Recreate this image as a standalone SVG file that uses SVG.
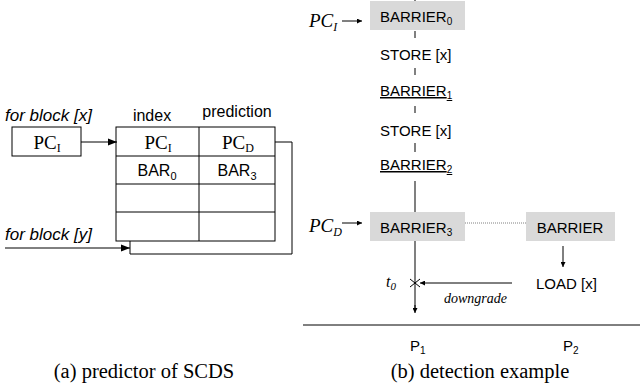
<svg xmlns="http://www.w3.org/2000/svg" width="640" height="392" viewBox="0 0 640 392">
<style>
.sans{font-family:"Liberation Sans",Arial,sans-serif;fill:#000}
.serif{font-family:"Liberation Serif","Times New Roman",serif;fill:#000}
.it{font-style:italic}
.ln{stroke:#000;fill:none;stroke-width:1}
.gray{stroke:#808080;stroke-width:2;fill:none}
.box{fill:#d9d9d9}
</style>
<defs>
<marker id="ah" viewBox="0 0 10 10" refX="10" refY="5" markerWidth="5" markerHeight="5" orient="auto" markerUnits="userSpaceOnUse">
<path d="M0,0 L10,5 L0,10 z" fill="#000"/>
</marker>
<marker id="ahb" viewBox="0 0 10 10" refX="10" refY="5" markerWidth="9" markerHeight="9" orient="auto" markerUnits="userSpaceOnUse">
<path d="M0,1 L10,5 L0,9 z" fill="#000"/>
</marker>
</defs>

<!-- left panel -->
<g id="label-x"><text class="sans it" x="5" y="121" font-size="17">for block [x]</text></g>
<g id="pci-box">
<rect x="12" y="127" width="69" height="29" fill="#fff" stroke="#000"/>
<text class="serif" x="47" y="149" font-size="19" text-anchor="middle">PC<tspan font-size="12" dy="3">I</tspan></text>
</g>
<g id="table">
<rect x="116" y="127" width="159" height="114" fill="#fff" stroke="#000"/>
<line class="ln" x1="199" y1="127" x2="199" y2="241"/>
<line class="ln" x1="116" y1="156" x2="275" y2="156" stroke-width="1.5"/>
<line class="ln" x1="116" y1="184" x2="275" y2="184" stroke-width="2"/>
<line class="ln" x1="116" y1="212" x2="275" y2="212"/>
<text class="sans" x="152" y="121" font-size="16" text-anchor="middle">index</text>
<text class="sans" x="237" y="117" font-size="16" text-anchor="middle">prediction</text>
<text class="serif" x="158" y="149" font-size="19" text-anchor="middle">PC<tspan font-size="12" dy="3">I</tspan></text>
<text class="serif" x="238" y="149" font-size="19" text-anchor="middle">PC<tspan font-size="12" dy="3">D</tspan></text>
<text class="sans" x="157" y="176" font-size="16" text-anchor="middle">BAR<tspan font-size="11" dy="4">0</tspan></text>
<text class="sans" x="237" y="176" font-size="16" text-anchor="middle">BAR<tspan font-size="11" dy="4">3</tspan></text>
</g>
<g id="label-y"><text class="sans it" x="5" y="240" font-size="17">for block [y]</text></g>
<g id="caption-a"><text class="serif" x="144" y="378" font-size="20.5" text-anchor="middle">(a) predictor of SCDS</text></g>

<!-- right panel nodes -->
<g id="barrier0">
<rect class="box" x="370" y="1" width="95" height="29"/>
<text class="sans" x="380" y="22" font-size="15">BARRIER<tspan font-size="10" dy="3">0</tspan></text>
</g>
<g id="pci-label"><text class="serif it" x="309" y="27" font-size="19">PC<tspan font-size="12" dy="4">I</tspan></text></g>
<g id="store1"><text class="sans" x="380" y="60" font-size="15">STORE [x]</text></g>
<g id="barrier1"><text class="sans" x="380" y="96" font-size="15" text-decoration="underline">BARRIER<tspan font-size="10" dy="3">1</tspan></text></g>
<g id="store2"><text class="sans" x="380" y="136" font-size="15">STORE [x]</text></g>
<g id="barrier2"><text class="sans" x="380" y="170" font-size="15" text-decoration="underline">BARRIER<tspan font-size="10" dy="3">2</tspan></text></g>
<g id="barrier3">
<rect class="box" x="370" y="212" width="95" height="29"/>
<text class="sans" x="380" y="233" font-size="15">BARRIER<tspan font-size="10" dy="3">3</tspan></text>
</g>
<g id="pcd-label"><text class="serif it" x="309" y="232" font-size="19">PC<tspan font-size="12" dy="4">D</tspan></text></g>
<g id="barrier-p2">
<rect class="box" x="526" y="212" width="89" height="29"/>
<text class="sans" x="570" y="233" font-size="15" text-anchor="middle">BARRIER</text>
</g>
<g id="load"><text class="sans" x="536" y="289" font-size="15">LOAD [x]</text></g>
<g id="t0"><text class="serif it" x="386" y="287" font-size="16">t<tspan font-size="11" dy="3">0</tspan></text></g>
<g id="downgrade-label"><text class="serif it" x="444" y="303" font-size="14">downgrade</text></g>
<g id="p1"><text class="sans" x="410" y="351" font-size="15">P<tspan font-size="10" dy="3">1</tspan></text></g>
<g id="p2"><text class="sans" x="563" y="351" font-size="15">P<tspan font-size="10" dy="3">2</tspan></text></g>
<g id="caption-b"><text class="serif" x="480" y="378" font-size="20.5" text-anchor="middle">(b) detection example</text></g>

<!-- connectors -->
<g id="connectors">
<line class="ln" x1="81" y1="142" x2="117" y2="142" stroke-width="2" marker-end="url(#ahb)"/>
<polyline class="ln" points="275,142 292,142 292,254 130,254 130,241"/>
<line class="ln" x1="5" y1="248" x2="130" y2="248" stroke-width="2" marker-end="url(#ahb)"/>

<line class="gray" x1="415" y1="0" x2="415" y2="1"/>
<line class="gray" x1="415" y1="31" x2="415" y2="38"/>
<line class="gray" x1="415" y1="68" x2="415" y2="75"/>
<line class="gray" x1="415" y1="106" x2="415" y2="113"/>
<line class="gray" x1="415" y1="143" x2="415" y2="152"/>
<line class="gray" x1="415" y1="181" x2="415" y2="212"/>
<line class="gray" x1="415" y1="241" x2="415" y2="308"/>
<line class="ln" x1="415" y1="305" x2="415" y2="313" marker-end="url(#ah)"/>
<line class="ln" x1="342" y1="21" x2="362" y2="21" marker-end="url(#ah)"/>
<line class="ln" x1="342" y1="223" x2="362" y2="223" marker-end="url(#ah)"/>
<line x1="465" y1="223" x2="526" y2="223" stroke="#808080" stroke-width="1" stroke-dasharray="1,1"/>
<line class="ln" x1="563" y1="246" x2="563" y2="267" marker-end="url(#ah)"/>
<line class="ln" x1="512" y1="283" x2="420" y2="283" marker-end="url(#ah)"/>
<path class="ln" d="M410,279 L420,287 M410,287 L420,279"/>
<line class="ln" x1="303" y1="325" x2="640" y2="325"/>
</g>
</svg>
